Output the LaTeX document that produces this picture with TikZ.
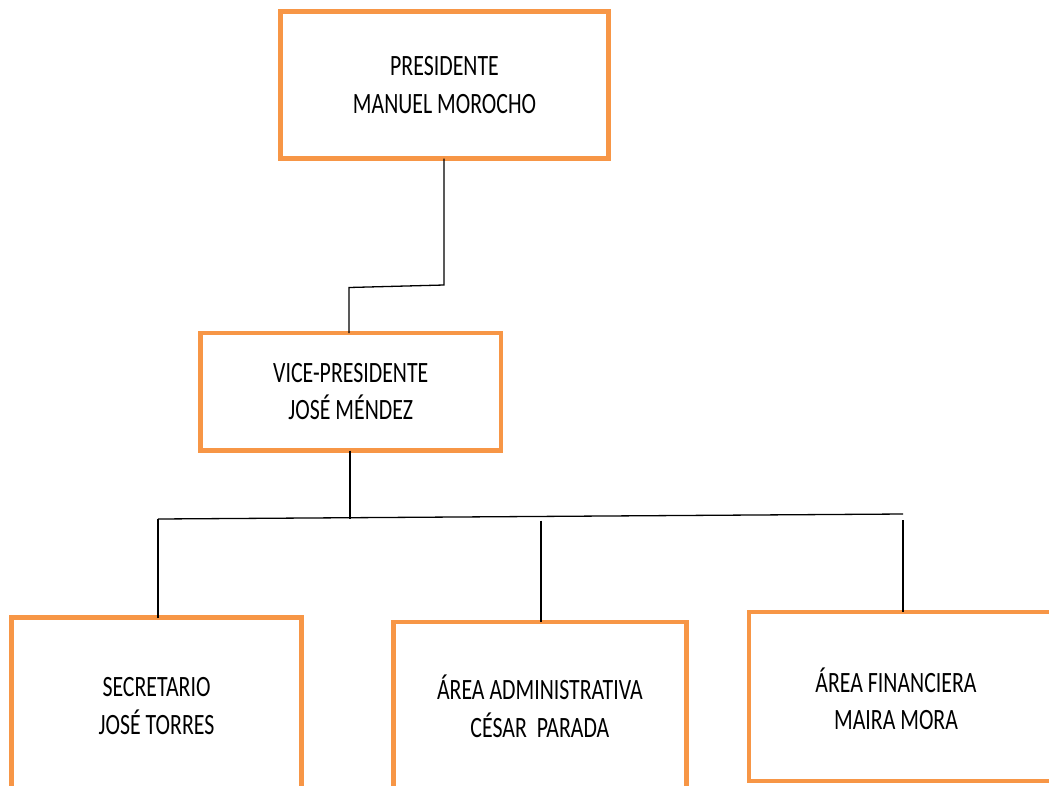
\documentclass[tikz,border=0pt]{standalone}
\usepackage{fontspec}
\newfontfamily\lblfont{Carlito}[FakeStretch=0.74]
\definecolor{orangeC}{HTML}{F79646}
\begin{document}
\begin{tikzpicture}[x=1pt,y=-1pt,
  box/.style={draw=orangeC, line width=4.6pt, fill=white, inner sep=0pt, outer sep=0pt,
    align=center, font=\lblfont\fontsize{29.5}{37.5}\selectfont},
  lbl/.style={inner sep=0pt, align=center, font=\lblfont\fontsize{29.5}{37.5}\selectfont},
  conn/.style={draw=black, line width=1.3pt}]
\clip (0,0) rectangle (1049,785);
\fill[white] (0,0) rectangle (1049,785);

% boxes
\node[box, minimum width=328pt, minimum height=147pt] (pres) at (444.5,85) {PRESIDENTE\\MANUEL MOROCHO};
\node[box, minimum width=300.5pt, minimum height=117.5pt] (vp) at (350.75,391.75) {VICE-PRESIDENTE\\JOSÉ MÉNDEZ};
\node[box, minimum width=290pt, minimum height=177pt] (sec) at (156.5,706) {SECRETARIO\\JOSÉ TORRES};
\node[box, minimum width=292.8pt, minimum height=169pt] (adm) at (539.9,706.5) {ÁREA ADMINISTRATIVA\\CÉSAR\ \ PARADA};
\node[box, minimum width=320pt, minimum height=169pt] (fin) at (909,696.5) {};
\node[lbl] (finl) at (896,699) {ÁREA FINANCIERA\\MAIRA MORA};

% connectors
\coordinate (p1) at (444,285);
\coordinate (p2) at (349,287.5);
\draw[conn] (pres.south -| p1) -- (p1) -- (p2) -- (vp.north -| p2);

\coordinate (b0) at (350,518.5);
\coordinate (bl) at (158,519);
\coordinate (br) at (903,514);
\draw[conn] (vp.south -| b0) -- (b0);
\draw[conn] (bl) -- (br);
\draw[conn] (bl) -- (sec.north -| bl);
\coordinate (bm) at (541,520.5);
\draw[conn] (bm) -- (adm.north -| bm);
\coordinate (brr) at (903,520);
\draw[conn] (brr) -- (fin.north -| brr);
\end{tikzpicture}
\end{document}
